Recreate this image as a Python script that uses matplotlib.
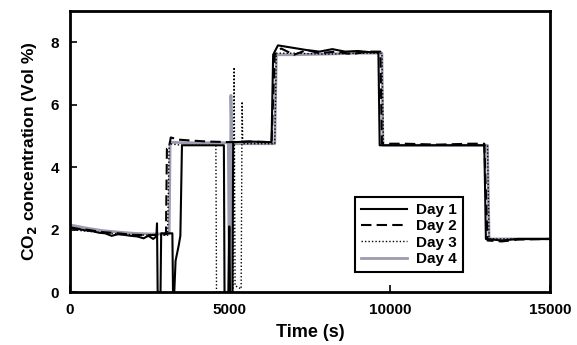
import matplotlib
matplotlib.use("Agg")
import matplotlib.pyplot as plt

# time (s) and CO2 (Vol %)
day1_t = [0, 200, 450, 700, 900, 1100, 1300, 1500, 1700, 1900, 2100, 2300, 2450, 2600, 2700,
          2720, 2740, 2830, 2850, 3200, 3220, 3260, 3300, 3400, 3450, 3500, 4000, 4500, 4810,
          4830, 4950, 4980, 5000, 5080, 5100, 5600, 6300,
          6350, 6500, 6800, 7100, 7400, 7800, 8200, 8600, 9000, 9400, 9640, 9680, 12950,
          13000, 13500, 14000, 15000]
day1_v = [2.08, 2.03, 1.98, 1.95, 1.9, 1.88, 1.8, 1.85, 1.83, 1.8, 1.78, 1.72, 1.8, 1.7, 1.78,
          2.2, 0.0, 0.0, 1.88, 1.88, 0.0, 0.0, 1.0, 1.5, 1.8, 4.7, 4.7, 4.7, 4.7,
          0.0, 0.0, 2.1, 0.0, 0.0, 4.8, 4.82, 4.8,
          7.6, 7.9, 7.85, 7.8, 7.75, 7.7, 7.78, 7.7, 7.72, 7.68, 7.68, 4.7, 4.7,
          1.7, 1.65, 1.7, 1.7]

day2_t = [0, 500, 1000, 1500, 2000, 2500, 3000, 3030, 3100, 3150, 3400, 3800, 4300, 5000,
          5600, 6300, 6400, 6600,
          7000, 7400, 7800, 8300, 8800, 9300, 9700, 9750, 10500, 11500, 12500, 12950,
          13050, 13500, 14000, 15000]
day2_v = [2.05, 2.0, 1.92, 1.88, 1.83, 1.82, 1.85, 4.6, 4.65, 4.95, 4.88, 4.85, 4.82, 4.8,
          4.82, 4.8, 7.6, 7.8,
          7.6, 7.75, 7.65, 7.7, 7.62, 7.7, 7.7, 4.75, 4.75, 4.72, 4.75, 4.75,
          1.65, 1.62, 1.68, 1.7]

day3_t = [0, 500, 1000, 1500, 2000, 2500, 3050, 3100, 3500, 4000, 4560, 4580, 5100, 5130,
          5160, 5350, 5380, 5400, 6000, 6400, 6450, 7000, 8000, 9000, 9750, 9800, 11000,
          12000, 13050, 13100, 14000, 15000]
day3_v = [2.0, 1.95, 1.9, 1.86, 1.83, 1.82, 1.82, 4.75, 4.7, 4.7, 4.7, 0.0, 0.0, 7.2,
          0.2, 0.1, 6.1, 4.75, 4.75, 4.75, 7.65, 7.65, 7.62, 7.65, 7.65, 4.7, 4.7,
          4.7, 4.7, 1.7, 1.7, 1.7]

day4_t = [0, 500, 1000, 1500, 2000, 2500, 3100, 3130, 3600, 4200, 4950, 4980, 5010, 5030,
          5060, 5600, 6400, 6450, 7000, 8000, 9000, 9750, 9780, 11000, 12000, 13050,
          13100, 14000, 15000]
day4_v = [2.15, 2.05, 1.97, 1.92, 1.88, 1.86, 1.86, 4.8, 4.78, 4.78, 4.78, 0.05, 0.05, 6.3,
          4.75, 4.75, 4.75, 7.6, 7.6, 7.62, 7.65, 7.65, 4.7, 4.7, 4.7, 4.7,
          1.7, 1.7, 1.7]

x_ticks = [0, 5000, 10000, 15000]
y_ticks = [0, 2, 4, 6, 8]

plt.rcParams['font.family'] = ['Liberation Sans', 'DejaVu Sans']
plt.rcParams['font.weight'] = 'bold'

fig = plt.figure(figsize=(5.77, 3.45), dpi=100)
ax = fig.add_axes([0.1213, 0.1536, 0.8317, 0.8144])

ax.plot(day4_t, day4_v, color='#9c9cb0', lw=2.0, label='Day 4', zorder=2)
ax.plot(day3_t, day3_v, color='black', lw=1.0, ls=(0, (1, 1.5)), label='Day 3', zorder=3)
ax.plot(day2_t, day2_v, color='black', lw=1.5, ls=(0, (5, 2.5)), label='Day 2', zorder=3)
ax.plot(day1_t, day1_v, color='black', lw=1.5, label='Day 1', zorder=4)

ax.set_xlim(0, 15000)
ax.set_ylim(0, 9)
ax.set_xticks(x_ticks)
ax.set_yticks(y_ticks)
ax.tick_params(direction='in', length=5, width=1.2, labelsize=11, pad=8)
for s in ax.spines.values():
    s.set_linewidth(2)

ax.set_xlabel('Time (s)', fontsize=13, fontweight='bold', labelpad=5)
ax.set_ylabel('CO$_\\mathbf{2}$ concentration (Vol %)', fontsize=12.5, fontweight='bold', labelpad=8)

handles, labels = ax.get_legend_handles_labels()
order = [3, 2, 1, 0]
leg = ax.legend([handles[i] for i in order], [labels[i] for i in order],
                loc='upper left', bbox_to_anchor=(0.578, 0.365), fancybox=False,
                edgecolor='black', framealpha=1, fontsize=11, handlelength=3.0,
                borderpad=0.4, labelspacing=0.15, handletextpad=0.6)
leg.get_frame().set_linewidth(1.5)

fig.savefig('out.png', dpi=100)
